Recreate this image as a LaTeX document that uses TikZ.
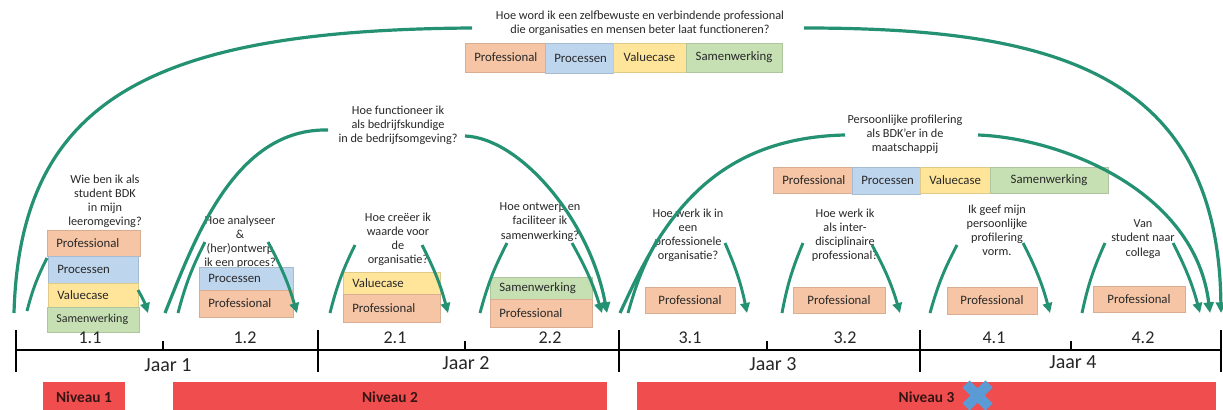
\documentclass[tikz,border=0pt]{standalone}
\usepackage{fontspec}
\setmainfont{Carlito}
\usetikzlibrary{arrows.meta}
\definecolor{cpro}{RGB}{245,197,165}
\definecolor{cproc}{RGB}{190,213,238}
\definecolor{cval}{RGB}{255,229,153}
\definecolor{csam}{RGB}{198,224,180}
\definecolor{cgreen}{RGB}{36,146,114}
\definecolor{cred}{RGB}{240,78,78}
\definecolor{cblue}{RGB}{91,155,213}
\definecolor{ctext}{RGB}{40,40,40}
\definecolor{cniv}{RGB}{55,20,20}
\newcommand\bx[8]{\node[boxs,fill=#6,draw=#6!88!black,minimum width={(#4-#2)*0.75pt},minimum height={(#5-#3)*0.75pt},text width={(#4-#2)*0.75pt-14pt},align=#7] (#1) at ({(#2+#4)/2},{(#3+#5)/2}) {#8};}
\tikzset{
  boxs/.style={rectangle, line width=0.3pt, inner xsep=7pt, inner ysep=0pt, font=\fontsize{9.6}{11}\selectfont, text=ctext},
  quest/.style={align=center, inner sep=0pt, font=\fontsize{9.2}{10.6}\selectfont, text=ctext},
  bigarc/.style={draw=cgreen, line width=2.4pt},
  bigarr/.style={bigarc, -{Triangle[length=8pt,width=7.5pt]}},
  leg/.style={draw=cgreen, line width=2.2pt},
  legarr/.style={leg, -{Triangle[length=7.5pt,width=7pt]}},
  tline/.style={draw=black, line width=1.9pt},
  period/.style={inner sep=0pt, font=\fontsize{13.5}{14}\selectfont, text=black!85},
  jaar/.style={inner sep=0pt, font=\fontsize{15}{16}\selectfont, text=black!85},
  niv/.style={fill=cred, inner sep=0pt, font=\bfseries\fontsize{11.5}{12}\selectfont, text=cniv},
  xmark/.style={draw=cblue, line width=7.5pt}
}
\begin{document}
\begin{tikzpicture}[x=0.75pt,y=-0.75pt]
\useasboundingbox (0,0) rectangle (1223,410);

% ---------- questions ----------
\node[quest] (qtop) at (640,23) {Hoe word ik een zelfbewuste en verbindende professional\\die organisaties en mensen beter laat functioneren?};
\node[quest] (qfun) at (398,125.5) {Hoe functioneer ik\\als bedrijfskundige\\in de bedrijfsomgeving?};
\node[quest] (qper) at (905,134) {Persoonlijke profilering\\als BDK'er in de\\maatschappij};
\node[quest] (q11) at (105,201.5) {Wie ben ik als\\student BDK\\in mijn\\leeromgeving?};
\node[quest] (q12) at (240,242.5) {Hoe analyseer\\\&\\(her)ontwerp\\ik een proces?};
\node[quest] (q21) at (398,239.5) {Hoe creëer ik\\waarde voor\\de\\organisatie?};
\node[quest] (q22) at (540,222) {Hoe ontwerp en\\faciliteer ik\\samenwerking?};
\node[quest] (q31) at (688,235.5) {Hoe werk ik in\\een\\professionele\\organisatie?};
\node[quest] (q32) at (845,235.5) {Hoe werk ik\\als inter-\\disciplinaire\\professional?};
\node[quest] (q41) at (997,230) {Ik geef mijn\\persoonlijke\\profilering\\vorm.};
\node[quest] (q42) at (1143,239) {Van\\student naar\\collega};

% ---------- boxes ----------
\bx{t1}{465}{43}{545}{72}{cpro}{center}{Professional}
\bx{t2}{545}{43}{613}{73}{cproc}{center}{Processen}
\bx{t3}{613}{43}{686}{72}{cval}{center}{Valuecase}
\bx{t4}{686}{43}{782}{72}{csam}{center}{Samenwerking}

\bx{r1}{773}{167}{852}{193}{cpro}{center}{Professional}
\bx{r2}{852}{167}{920}{194}{cproc}{center}{Processen}
\bx{r3}{920}{167}{990}{193}{cval}{center}{Valuecase}
\bx{r4}{990}{167}{1108}{193}{csam}{center}{Samenwerking}

\bx{a1}{47}{230}{140}{256}{cpro}{left}{Professional}
\bx{a2}{48}{256}{138}{283}{cproc}{left}{Processen}
\bx{a3}{48}{283}{138}{307}{cval}{left}{Valuecase}
\bx{a4}{47}{307}{139}{332}{csam}{left}{\fontsize{9}{11}\selectfont Samenwerking}

\bx{b1}{199}{267}{293}{290}{cproc}{left}{Processen}
\bx{b2}{199}{290}{293}{317}{cpro}{left}{Professional}

\bx{c1}{343}{272}{440}{294}{cval}{left}{Valuecase}
\bx{c2}{343}{294}{440}{322}{cpro}{left}{Professional}

\bx{d1}{490}{277}{592}{299}{csam}{left}{Samenwerking}
\bx{d2}{490}{299}{592}{327}{cpro}{left}{Professional}

\bx{e1}{645}{287}{735}{313}{cpro}{center}{Professional}
\bx{f1}{793}{287}{885}{313}{cpro}{center}{Professional}
\bx{g1}{947}{287}{1037}{314}{cpro}{center}{Professional}
\bx{h1}{1093}{286}{1185}{312}{cpro}{center}{Professional}

% ---------- big arcs ----------
\coordinate (B0) at (14,313);
\coordinate (B1) at (472,28);
\coordinate (B2) at (804,28);
\coordinate (B3) at (1221,313);
\draw[bigarc] (B0) .. controls (20,100) and (150,30) .. (B1);
\draw[bigarr] (B2) .. controls (1050,28) and (1218,70) .. (B3);

\coordinate (F0) at (165,313);
\coordinate (F1) at (328,130);
\coordinate (F2) at (465,136);
\coordinate (F3) at (607,313);
\draw[bigarc] (F0) .. controls (195,238) and (235,128) .. (F1);
\draw[bigarr] (F2) .. controls (520,138) and (590,220) .. (F3);

\coordinate (P0) at (620,313);
\coordinate (P1) at (845,135);
\coordinate (P2) at (978,135);
\coordinate (P3) at (1210,313);
\draw[bigarc] (P0) .. controls (655,238) and (700,138) .. (P1);
\draw[bigarr] (P2) .. controls (1060,138) and (1195,190) .. (P3);

% ---------- small legs ----------
\foreach \n/\xa/\ya/\xb/\yb/\xc/\yc/\xd/\yd in {
  11/27/311/47/258/138/290/148/313,
  12/178/313/205/242/268/242/297/313,
  21/330/313/355/245/422/245/448/313,
  22/480/313/507/243/572/243/602/313,
  31/628/313/657/240/725/243/747/313,
  32/782/313/803/243/872/245/900/313,
  41/930/313/957/245/1023/243/1050/313,
  42/1082/313/1105/243/1173/243/1200/313}{
  \coordinate (la\n) at (\xa,\ya);
  \coordinate (lb\n) at (\xb,\yb);
  \coordinate (lc\n) at (\xc,\yc);
  \coordinate (ld\n) at (\xd,\yd);
  \draw[leg] (la\n) to[bend left=6] (lb\n);
  \draw[legarr] (lc\n) to[bend left=6] (ld\n);
}

% ---------- timeline ----------
\coordinate (T0) at (16,350);
\coordinate (T1) at (1221,350);
\draw[tline] (T0) -- (T1);
\foreach \x [count=\i] in {16,318,619,920,1221}{
  \coordinate (kt\i) at (\x,330);
  \coordinate (kb\i) at (\x,372);
  \draw[tline] (kt\i) -- (kb\i);
}
\foreach \x [count=\i] in {163,465,767,1071}{
  \coordinate (st\i) at (\x,341);
  \coordinate (sb\i) at (\x,350);
  \draw[tline] (st\i) -- (sb\i);
}
\node[period] (p11) at (90,338) {1.1};
\node[period] (p12) at (245,338) {1.2};
\node[period] (p21) at (395,338) {2.1};
\node[period] (p22) at (550,338) {2.2};
\node[period] (p31) at (690,338) {3.1};
\node[period] (p32) at (845,338) {3.2};
\node[period] (p41) at (994,338) {4.1};
\node[period] (p42) at (1143,338) {4.2};
\node[jaar] (j1) at (168,365) {Jaar 1};
\node[jaar] (j2) at (466,363) {Jaar 2};
\node[jaar] (j3) at (773,364) {Jaar 3};
\node[jaar] (j4) at (1073,362) {Jaar 4};

% ---------- levels ----------
\node[niv, minimum width={82*0.75pt}, minimum height={30*0.75pt}] (n1) at (84,397) {Niveau 1};
\node[niv, minimum width={434*0.75pt}, minimum height={30*0.75pt}] (n2) at (390,397) {Niveau 2};
\node[niv, minimum width={579*0.75pt}, minimum height={30*0.75pt}] (n3) at (926.5,397) {Niveau 3};
\coordinate (x1) at (966,384);
\coordinate (x2) at (989,407);
\coordinate (x3) at (966,407);
\coordinate (x4) at (989,384);
\draw[xmark] (x1) -- (x2);
\draw[xmark] (x3) -- (x4);
\end{tikzpicture}
\end{document}
